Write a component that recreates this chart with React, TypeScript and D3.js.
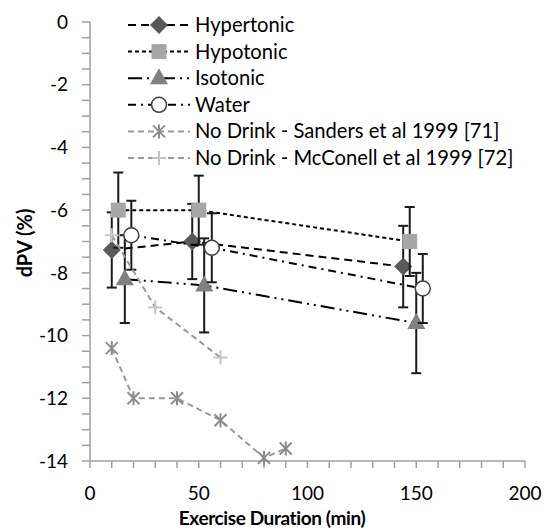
import React from "react";
import * as d3 from "d3";

// exercise duration (min) and dPV (%) per series, with error (SD)
const hyperX = [10, 47, 144];
const hyperY = [-7.27, -7.0, -7.8];
const hyperErr = [1.2, 1.2, 1.3];

const hypoX = [13, 50, 147];
const hypoY = [-6.0, -6.0, -7.0];
const hypoErr = [1.2, 1.1, 1.1];

const isoX = [16, 52.5, 150];
const isoY = [-8.2, -8.4, -9.6];
const isoErr = [1.4, 1.5, 1.6];

const waterX = [19, 56, 153];
const waterY = [-6.8, -7.2, -8.5];
const waterErr = [1.1, 1.1, 1.1];

const sandersX = [10, 20, 40, 60, 80, 90];
const sandersY = [-10.4, -12.0, -12.0, -12.7, -13.9, -13.6];

const mcconellX = [10, 30, 60];
const mcconellY = [-6.8, -9.1, -10.7];

const xTicks = [0, 50, 100, 150, 200];
const yTicks = [0, -2, -4, -6, -8, -10, -12, -14];

type Series = {
  name: string;
  xs: number[];
  ys: number[];
  err?: number[];
  marker: string;
  fill: string;
  stroke: string;
  lineColor: string;
  dash: string;
};

const series: Series[] = [
  { name: "Hypertonic", xs: hyperX, ys: hyperY, err: hyperErr, marker: "diamond", fill: "#595959", stroke: "#595959", lineColor: "#000", dash: "8,5" },
  { name: "Hypotonic", xs: hypoX, ys: hypoY, err: hypoErr, marker: "square", fill: "#a6a6a6", stroke: "#a6a6a6", lineColor: "#000", dash: "4,3" },
  { name: "Isotonic", xs: isoX, ys: isoY, err: isoErr, marker: "triangle", fill: "#808080", stroke: "#808080", lineColor: "#000", dash: "14,5,2,5,2,5" },
  { name: "Water", xs: waterX, ys: waterY, err: waterErr, marker: "circle", fill: "#fff", stroke: "#404040", lineColor: "#000", dash: "8,5,2,5" },
  { name: "No Drink - Sanders et al 1999 [71]", xs: sandersX, ys: sandersY, marker: "asterisk", fill: "none", stroke: "#8c8c8c", lineColor: "#999", dash: "6,4" },
  { name: "No Drink - McConell et al 1999 [72]", xs: mcconellX, ys: mcconellY, marker: "plus", fill: "none", stroke: "#c4c4c4", lineColor: "#999", dash: "6,4" },
];

function Marker({ s, x, y }: { s: Series; x: number; y: number }) {
  switch (s.marker) {
    case "diamond":
      return <path d={`M${x},${y - 9}L${x + 9},${y}L${x},${y + 9}L${x - 9},${y}Z`} fill={s.fill} />;
    case "square":
      return <rect x={x - 7.5} y={y - 7.5} width={15} height={15} fill={s.fill} />;
    case "triangle":
      return <path d={`M${x},${y - 10}L${x + 9},${y + 6}L${x - 9},${y + 6}Z`} fill={s.fill} />;
    case "circle":
      return <circle cx={x} cy={y} r={7.5} fill={s.fill} stroke={s.stroke} strokeWidth={1.5} />;
    case "asterisk":
      return (
        <g stroke={s.stroke} strokeWidth={2}>
          <line x1={x - 6} y1={y - 6} x2={x + 6} y2={y + 6} />
          <line x1={x - 6} y1={y + 6} x2={x + 6} y2={y - 6} />
          <line x1={x} y1={y - 7} x2={x} y2={y + 7} />
        </g>
      );
    default:
      return (
        <g stroke={s.stroke} strokeWidth={2}>
          <line x1={x - 7} y1={y} x2={x + 7} y2={y} />
          <line x1={x} y1={y - 7} x2={x} y2={y + 7} />
        </g>
      );
  }
}

export default function App() {
  const width = 544;
  const height = 530;
  const x = d3.scaleLinear().domain([0, 200]).range([90, 525]);
  const y = d3.scaleLinear().domain([0, -14]).range([22, 461]);
  const line = d3.line<[number, number]>().x((d) => x(d[0])).y((d) => y(d[1]));
  const font = "Lato, sans-serif";
  const axisColor = "#a0a0a0";

  const xMinor = d3.range(0, 201, 10);
  const yMinor = d3.range(0, -14.01, -0.5);

  return (
    <svg width={width} height={height} style={{ position: "absolute", left: 0, top: 0, background: "#fff" }} fontFamily={font}>
      {/* axes */}
      <line x1={x(0)} x2={x(0)} y1={y(0)} y2={y(-14)} stroke={axisColor} strokeWidth={1.5} />
      <line x1={x(0)} x2={x(200)} y1={y(-14)} y2={y(-14)} stroke={axisColor} strokeWidth={1.5} />
      {yMinor.map((t) => (
        <line key={"ym" + t} x1={x(0) - 8} x2={x(0)} y1={y(t)} y2={y(t)} stroke={axisColor} strokeWidth={1.5} />
      ))}
      {xMinor.map((t) => (
        <line key={"xm" + t} x1={x(t)} x2={x(t)} y1={y(-14)} y2={y(-14) + 7} stroke={axisColor} strokeWidth={1.5} />
      ))}
      {yTicks.map((t) => (
        <text key={"yt" + t} x={68} y={y(t)} dy="0.35em" textAnchor="end" fontSize={19} fill="#000">
          {t}
        </text>
      ))}
      {xTicks.map((t) => (
        <text key={"xt" + t} x={x(t)} y={y(-14) + 39} textAnchor="middle" fontSize={19} fill="#000">
          {t}
        </text>
      ))}
      <text x={272} y={525} textAnchor="middle" fontSize={19} fontWeight="bold" letterSpacing={-0.4}>
        Exercise Duration (min)
      </text>
      <text transform="translate(32,243) rotate(-90)" textAnchor="middle" fontSize={20} fontWeight="bold">
        dPV (%)
      </text>

      {/* series */}
      {series.map((s) => {
        const pts = s.xs.map((v, i) => [v, s.ys[i]] as [number, number]);
        return (
          <g key={s.name}>
            <path d={line(pts) ?? ""} fill="none" stroke={s.lineColor} strokeWidth={2} strokeDasharray={s.dash} />
            {s.err &&
              pts.map((p, i) => {
                const cx = x(p[0]);
                const e = s.err![i];
                return (
                  <g key={"e" + i} stroke="#1a1a1a" strokeWidth={2}>
                    <line x1={cx} x2={cx} y1={y(p[1] + e)} y2={y(p[1] - e)} />
                    <line x1={cx - 5} x2={cx + 5} y1={y(p[1] + e)} y2={y(p[1] + e)} />
                    <line x1={cx - 5} x2={cx + 5} y1={y(p[1] - e)} y2={y(p[1] - e)} />
                  </g>
                );
              })}
            {pts.map((p, i) => (
              <Marker key={"m" + i} s={s} x={x(p[0])} y={y(p[1])} />
            ))}
          </g>
        );
      })}

      {/* legend */}
      {series.map((s, i) => {
        const ly = 25 + i * 26.6;
        return (
          <g key={"lg" + s.name}>
            <line x1={128} x2={190} y1={ly} y2={ly} stroke={s.lineColor} strokeWidth={2} strokeDasharray={s.dash} />
            <Marker s={s} x={159} y={ly} />
            <text x={195} y={ly} dy="0.35em" fontSize={20.2} fill="#000">
              {s.name}
            </text>
          </g>
        );
      })}
    </svg>
  );
}
